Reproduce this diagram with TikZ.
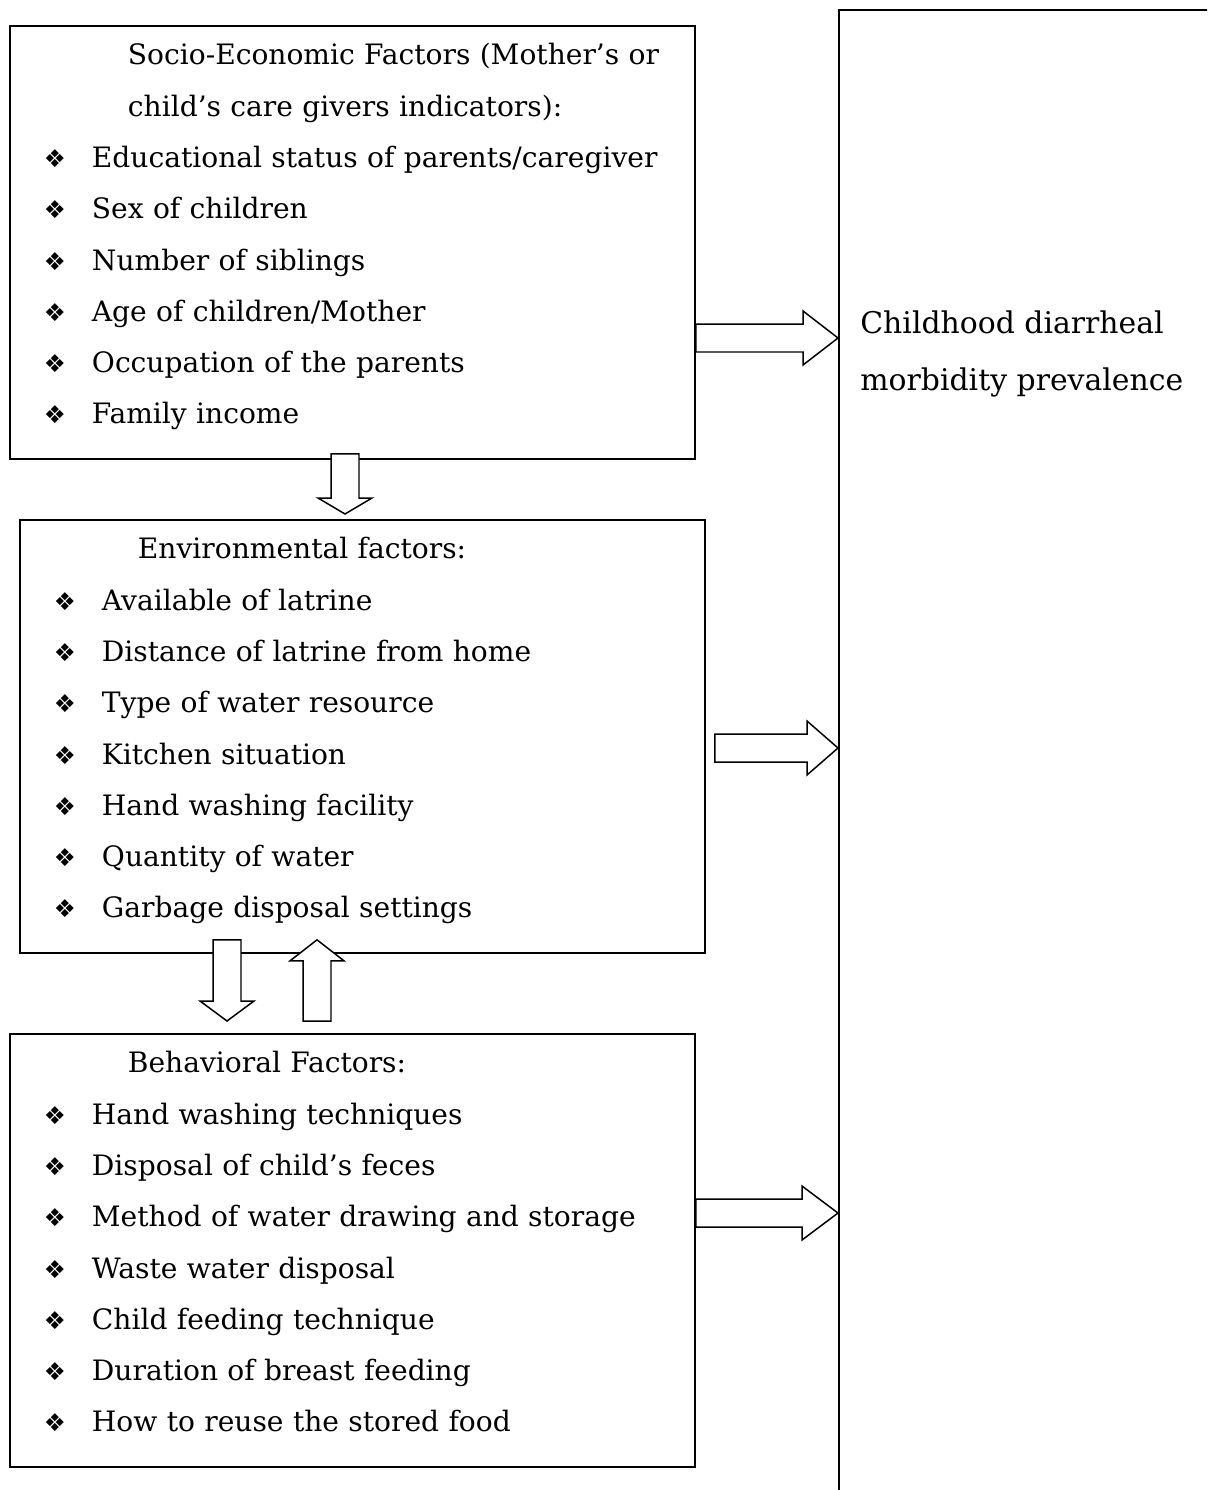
\documentclass[tikz,border=0pt]{standalone}
\usepackage{fontspec}
\setmainfont{DejaVu Serif}
\newfontfamily\bulfont{DejaVu Sans}
\usepackage{tikz}
\usetikzlibrary{positioning, calc}

% one bullet line of a factor box
\newcommand\itm{\hspace*{0.68cm}\makebox[0.96cm][l]{\bulfont\fontsize{14}{14}\selectfont ❖}}
\newcommand\ttl{\hspace*{2.36cm}}
% hollow block arrow: from, to, head length
\newcommand\blockarrow[3]{%
  \coordinate (hb) at ($(#2)!#3!(#1)$);
  \draw[barrow] ($(#1)!0.28cm!90:(#2)$) -- ($(hb)!0.28cm!90:(#2)$)
    -- ($(hb)!0.54cm!90:(#2)$) -- (#2) -- ($(hb)!0.54cm!-90:(#2)$)
    -- ($(hb)!0.28cm!-90:(#2)$) -- ($(#1)!0.28cm!-90:(#2)$) -- cycle;}

\begin{document}
\begin{tikzpicture}[
        x=0.02cm, y=-0.02cm,
        factor/.style={rectangle, draw=black, line width=1.1pt, fill=white, anchor=north west, minimum width=13.7cm, minimum height=8.66cm, text width=13.7cm, inner xsep=0pt, inner ysep=0pt, align=left, font=\fontsize{16}{29.2}\selectfont, execute at end node={\rule[-0.35cm]{0pt}{0pt}}},
        outbox/.style={rectangle, draw=black, line width=1.1pt, anchor=north west, minimum width=8cm, minimum height=30cm},
        outtext/.style={anchor=base west, inner sep=0pt, align=left, font=\fontsize{17}{32.4}\selectfont},
        barrow/.style={draw=black, line width=0.85pt, fill=white, line join=miter}
    ]
        \useasboundingbox (0,0) rectangle (1207,1490);
        \clip (0,0) rectangle (1207,1490);

        \node[outbox] (outcome) at (838,9) {};
        \node[outtext] (outtxt) at (860,390) {Childhood diarrheal\\morbidity prevalence};

        \node[factor] (socio) at (9,25) {\ttl Socio-Economic Factors (Mother’s or\\
            \ttl child’s care givers indicators):\\
            \itm Educational status of parents/caregiver\\
            \itm Sex of children\\
            \itm Number of siblings\\
            \itm Age of children/Mother\\
            \itm Occupation of the parents\\
            \itm Family income};
        \node[factor] (envir) at (19,519) {\ttl Environmental factors:\\
            \itm Available of latrine\\
            \itm Distance of latrine from home\\
            \itm Type of water resource\\
            \itm Kitchen situation\\
            \itm Hand washing facility\\
            \itm Quantity of water\\
            \itm Garbage disposal settings};
        \node[factor] (behav) at (9,1033) {\ttl Behavioral Factors:\\
            \itm Hand washing techniques\\
            \itm Disposal of child’s feces\\
            \itm Method of water drawing and storage\\
            \itm Waste water disposal\\
            \itm Child feeding technique\\
            \itm Duration of breast feeding\\
            \itm How to reuse the stored food};

        % arrows into the outcome box
        \blockarrow{socio.east |- 0,338}{outcome.west |- 0,338}{0.7cm}
        \blockarrow{$(envir.east |- 0,748)+(9,0)$}{outcome.west |- 0,748}{0.62cm}
        \blockarrow{behav.east |- 0,1213}{outcome.west |- 0,1213}{0.72cm}
        % arrows between the factor boxes
        \blockarrow{$(socio.south -| 345,0)+(0,-6)$}{$(envir.north -| 345,0)+(0,-5)$}{0.32cm}
        \blockarrow{$(envir.south -| 227,0)+(0,-14)$}{$(behav.north -| 227,0)+(0,-12)$}{0.4cm}
        \blockarrow{$(behav.north -| 317,0)+(0,-12)$}{$(envir.south -| 317,0)+(0,-14)$}{0.42cm}
    \end{tikzpicture}
\end{document}
